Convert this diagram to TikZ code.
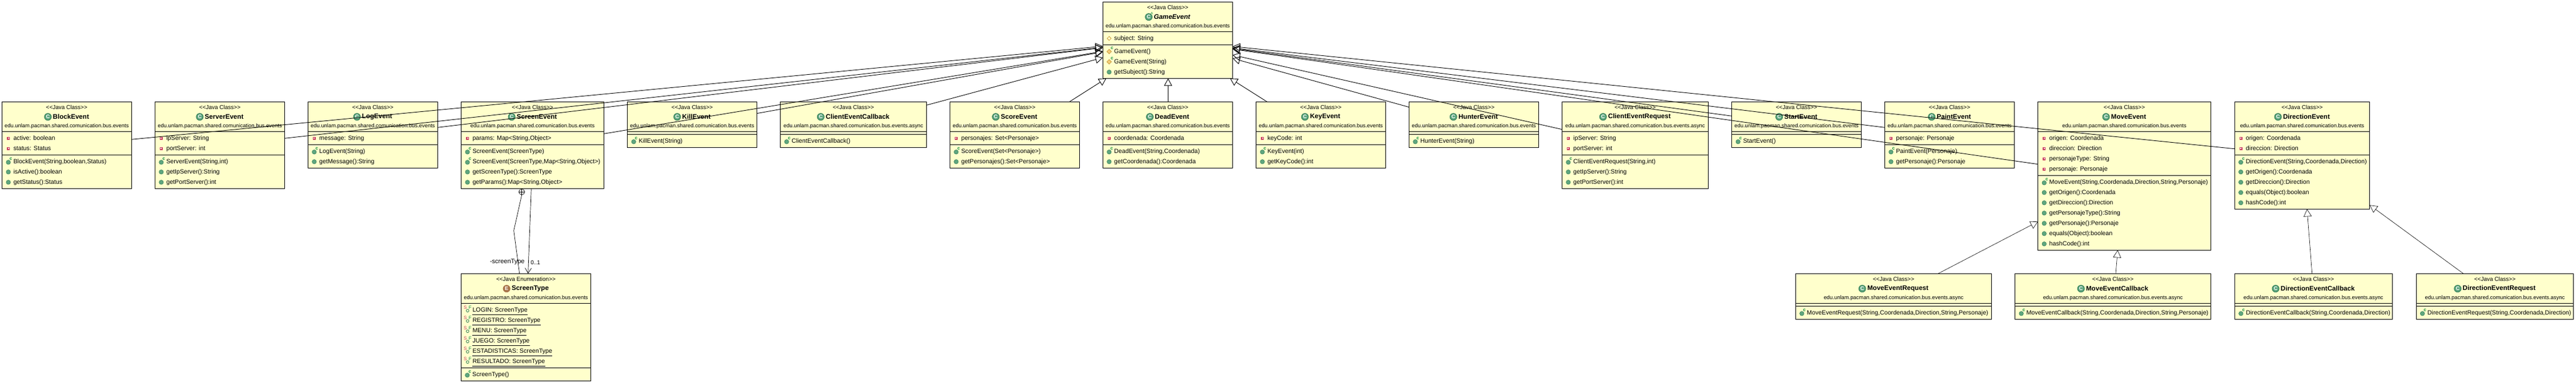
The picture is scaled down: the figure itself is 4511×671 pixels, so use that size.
\documentclass[tikz,border=0pt]{standalone}
\usepackage{fontspec}
\setmainfont{Liberation Sans}
\usetikzlibrary{arrows.meta,positioning}
\definecolor{boxfill}{HTML}{FFFFCC}
\definecolor{greenfill}{HTML}{5FA67F}
\definecolor{greenedge}{HTML}{2F7D53}
\definecolor{greenletter}{HTML}{0B8A3A}
\definecolor{brownfill}{HTML}{A8744A}
\definecolor{privred}{HTML}{C93A5C}
\definecolor{protfill}{HTML}{F3CE7A}
\definecolor{protedge}{HTML}{C99A3C}
\tikzset{
  classbox/.style={draw=black,line width=1pt,fill=boxfill,anchor=north west,inner sep=0pt,outer sep=0pt},
  sepline/.style={black,line width=1pt},
  stereotext/.style={font=\fontsize{10}{12}\selectfont,inner sep=0pt},
  nametext/.style={font=\fontsize{11.6}{14}\selectfont\bfseries,inner sep=0pt},
  pkgtext/.style={font=\fontsize{9.4}{12}\selectfont,inner sep=0pt},
  membertext/.style={font=\fontsize{10.7}{13}\selectfont,anchor=west,inner sep=0pt,text height=8pt,text depth=2.5pt},
  notetext/.style={font=\fontsize{11}{13}\selectfont,inner sep=0pt},
  iconClass/.style={circle,fill=greenfill,draw=greenedge,line width=1pt,minimum size=12pt,inner sep=0pt,text=white,font=\fontsize{9}{9}\selectfont\bfseries},
  iconEnumeration/.style={circle,fill=brownfill,draw=brownfill,line width=1pt,minimum size=12pt,inner sep=0pt,text=white,font=\fontsize{9}{9}\selectfont\bfseries},
  iconletter/.style={inner sep=0pt,text=greenletter,font=\fontsize{8}{8}\selectfont\bfseries},
  extends/.style={-{Triangle[open,length=13pt,width=14pt]},black,line width=0.9pt},
  extendsthin/.style={-{Triangle[open,length=13pt,width=14pt]},black,line width=0.6pt},
  uses/.style={-{Straight Barb[length=9pt,width=11pt]},black,line width=0.7pt},
  nested/.style={black,line width=0.7pt},
  pics/privfield/.style={code={
    \fill[privred] (-2.5pt,-2.5pt) rectangle (2.5pt,2.5pt);
    \fill[white] (-1pt,-1pt) rectangle (1pt,1pt);}},
  pics/publicmethod/.style={code={
    \fill[greenfill,draw=greenedge,line width=0.5pt] (0pt,0pt) circle (3.8pt);}},
  pics/ctormethod/.style={code={
    \fill[greenfill,draw=greenedge,line width=0.5pt] (0pt,-1pt) circle (3.8pt);
    \node[iconletter] (-c) at (4.5pt,5pt) {c};}},
  pics/protfield/.style={code={
    \draw[protedge,line width=0.8pt] (-3.5pt,0pt) -- (0pt,3.5pt) -- (3.5pt,0pt) -- (0pt,-3.5pt) -- cycle;}},
  pics/protctor/.style={code={
    \draw[protedge,fill=protfill,line width=0.8pt] (-4pt,0pt) -- (0pt,4pt) -- (4pt,0pt) -- (0pt,-4pt) -- cycle;
    \node[iconletter] (-c) at (5pt,5.5pt) {c};}},
  pics/staticfinal/.style={code={
    \draw[greenedge,line width=0.8pt] (0pt,-1pt) circle (2.4pt);
    \node[iconletter,text=privred,font=\fontsize{8}{8}\selectfont] (-s) at (-4pt,4.5pt) {S};
    \node[iconletter,font=\fontsize{8}{8}\selectfont\mdseries] (-f) at (4.5pt,5pt) {F};}},
}
\def\firstletter#1#2\relax{#1}
% name, x, y, width, fields, methods, title, package, kind
\newcommand{\umlbox}[9]{
  \pgfmathsetmacro{\ya}{#3+52}
  \pgfmathsetmacro{\yb}{#3+57+18*#5}
  \pgfmathsetmacro{\hh}{62+18*(#5+#6)}
  \node[classbox,minimum width=#4pt,minimum height=\hh pt] (#1) at (#2,#3) {};
  \draw[sepline] (#2,\ya) -- (#2+#4,\ya);
  \draw[sepline] (#2,\yb) -- (#2+#4,\yb);
  \node[stereotext] (#1-stereo) at (#2+0.5*#4,#3+10) {<{}<Java #9>{}>};
  \node[nametext] (#1-name) at (#2+0.5*#4+7.5,#3+26.4) {#7};
  \node[icon#9,left=2.2pt of #1-name] (#1-icon) {\firstletter#9\relax};
  \node[pkgtext] (#1-pkg) at (#2+0.5*#4,#3+42.7) {#8};
}
\newcommand{\member}[5]{
  \pic (#1-icon) at (#2+11,#3) {#4};
  \node[membertext] (#1) at (#2+19.7,#3) {#5};
}
\newcommand{\constant}[4]{
  \pic (#1-icon) at (#2+11.5,#3) {staticfinal};
  \node[membertext] (#1) at (#2+20,#3) {#4};
  \draw[black,line width=0.7pt] ([yshift=-5pt]#1.base west) -- ([yshift=-5pt]#1.base east);
}
\begin{document}
\begin{tikzpicture}[x=1pt,y=-1pt]
\useasboundingbox (0,0) rectangle (4511,671);
\def\bus{edu.unlam.pacman.shared.comunication.bus.events}
\def\async{edu.unlam.pacman.shared.comunication.bus.events.async}

\umlbox{gameEvent}{1931.3}{3.3}{227.2}{1}{3}{\itshape GameEvent}{\bus}{Class}
\node[iconletter,font=\fontsize{6}{6}\selectfont] (gameAbstract) at ([xshift=1pt,yshift=2pt]gameEvent-icon.north east) {A};
\member{gameSubject}{1931.3}{67.3}{protfield}{subject: String}
\member{gameCtorA}{1931.3}{90.3}{protctor}{GameEvent()}
\member{gameCtorB}{1931.3}{108.3}{protctor}{GameEvent(String)}
\member{gameGetSubject}{1931.3}{126.3}{publicmethod}{getSubject():String}

\umlbox{blockEvent}{3.6}{178.3}{226.4}{2}{3}{BlockEvent}{\bus}{Class}
\member{blockActive}{3.6}{242.3}{privfield}{active: boolean}
\member{blockStatus}{3.6}{260.3}{privfield}{status: Status}
\member{blockCtor}{3.6}{283.3}{ctormethod}{BlockEvent(String,boolean,Status)}
\member{blockIsActive}{3.6}{301.3}{publicmethod}{isActive():boolean}
\member{blockGetStatus}{3.6}{319.3}{publicmethod}{getStatus():Status}

\umlbox{serverEvent}{271.4}{178.3}{227.3}{2}{3}{ServerEvent}{\bus}{Class}
\member{serverIp}{271.4}{242.3}{privfield}{ipServer: String}
\member{serverPort}{271.4}{260.3}{privfield}{portServer: int}
\member{serverCtor}{271.4}{283.3}{ctormethod}{ServerEvent(String,int)}
\member{serverGetIp}{271.4}{301.3}{publicmethod}{getIpServer():String}
\member{serverGetPort}{271.4}{319.3}{publicmethod}{getPortServer():int}

\umlbox{logEvent}{539.3}{178.3}{227.2}{1}{2}{LogEvent}{\bus}{Class}
\member{logMessage}{539.3}{242.3}{privfield}{message: String}
\member{logCtor}{539.3}{265.3}{ctormethod}{LogEvent(String)}
\member{logGetMessage}{539.3}{283.3}{publicmethod}{getMessage():String}

\umlbox{screenEvent}{807.6}{178.3}{250}{1}{4}{ScreenEvent}{\bus}{Class}
\member{screenParams}{807.6}{242.3}{privfield}{params: Map<String,Object>}
\member{screenCtorA}{807.6}{265.3}{ctormethod}{ScreenEvent(ScreenType)}
\member{screenCtorB}{807.6}{283.3}{ctormethod}{ScreenEvent(ScreenType,Map<String,Object>)}
\member{screenGetType}{807.6}{301.3}{publicmethod}{getScreenType():ScreenType}
\member{screenGetParams}{807.6}{319.3}{publicmethod}{getParams():Map<String,Object>}

\umlbox{killEvent}{1098.7}{178.3}{226.7}{0}{1}{KillEvent}{\bus}{Class}
\member{killCtor}{1098.7}{247.3}{ctormethod}{KillEvent(String)}

\umlbox{clientCallback}{1366.5}{178.3}{255.8}{0}{1}{ClientEventCallback}{\async}{Class}
\member{clientCallbackCtor}{1366.5}{247.3}{ctormethod}{ClientEventCallback()}

\umlbox{scoreEvent}{1663.4}{178.3}{227.2}{1}{2}{ScoreEvent}{\bus}{Class}
\member{scorePersonajes}{1663.4}{242.3}{privfield}{personajes: Set<Personaje>}
\member{scoreCtor}{1663.4}{265.3}{ctormethod}{ScoreEvent(Set<Personaje>)}
\member{scoreGet}{1663.4}{283.3}{publicmethod}{getPersonajes():Set<Personaje>}

\umlbox{deadEvent}{1931.3}{178.3}{227.2}{1}{2}{DeadEvent}{\bus}{Class}
\member{deadCoord}{1931.3}{242.3}{privfield}{coordenada: Coordenada}
\member{deadCtor}{1931.3}{265.3}{ctormethod}{DeadEvent(String,Coordenada)}
\member{deadGet}{1931.3}{283.3}{publicmethod}{getCoordenada():Coordenada}

\umlbox{keyEvent}{2199.6}{178.3}{226.7}{1}{2}{KeyEvent}{\bus}{Class}
\member{keyCode}{2199.6}{242.3}{privfield}{keyCode: int}
\member{keyCtor}{2199.6}{265.3}{ctormethod}{KeyEvent(int)}
\member{keyGet}{2199.6}{283.3}{publicmethod}{getKeyCode():int}

\umlbox{hunterEvent}{2467.4}{178.3}{227.2}{0}{1}{HunterEvent}{\bus}{Class}
\member{hunterCtor}{2467.4}{247.3}{ctormethod}{HunterEvent(String)}

\umlbox{clientRequest}{2735.3}{178.3}{256.2}{2}{3}{ClientEventRequest}{\async}{Class}
\member{requestIp}{2735.3}{242.3}{privfield}{ipServer: String}
\member{requestPort}{2735.3}{260.3}{privfield}{portServer: int}
\member{requestCtor}{2735.3}{283.3}{ctormethod}{ClientEventRequest(String,int)}
\member{requestGetIp}{2735.3}{301.3}{publicmethod}{getIpServer():String}
\member{requestGetPort}{2735.3}{319.3}{publicmethod}{getPortServer():int}

\umlbox{startEvent}{3032.6}{178.3}{226.8}{0}{1}{StartEvent}{\bus}{Class}
\member{startCtor}{3032.6}{247.3}{ctormethod}{StartEvent()}

\umlbox{paintEvent}{3300.4}{178.3}{227.2}{1}{2}{PaintEvent}{\bus}{Class}
\member{paintPersonaje}{3300.4}{242.3}{privfield}{personaje: Personaje}
\member{paintCtor}{3300.4}{265.3}{ctormethod}{PaintEvent(Personaje)}
\member{paintGet}{3300.4}{283.3}{publicmethod}{getPersonaje():Personaje}

\umlbox{moveEvent}{3568.7}{178.3}{302.6}{4}{7}{MoveEvent}{\bus}{Class}
\member{moveOrigen}{3568.7}{242.3}{privfield}{origen: Coordenada}
\member{moveDireccion}{3568.7}{260.3}{privfield}{direccion: Direction}
\member{moveType}{3568.7}{278.3}{privfield}{personajeType: String}
\member{movePersonaje}{3568.7}{296.3}{privfield}{personaje: Personaje}
\member{moveCtor}{3568.7}{319.3}{ctormethod}{MoveEvent(String,Coordenada,Direction,String,Personaje)}
\member{moveGetOrigen}{3568.7}{337.3}{publicmethod}{getOrigen():Coordenada}
\member{moveGetDireccion}{3568.7}{355.3}{publicmethod}{getDireccion():Direction}
\member{moveGetType}{3568.7}{373.3}{publicmethod}{getPersonajeType():String}
\member{moveGetPersonaje}{3568.7}{391.3}{publicmethod}{getPersonaje():Personaje}
\member{moveEquals}{3568.7}{409.3}{publicmethod}{equals(Object):boolean}
\member{moveHash}{3568.7}{427.3}{publicmethod}{hashCode():int}

\umlbox{directionEvent}{3913}{178.3}{236.8}{2}{5}{DirectionEvent}{\bus}{Class}
\member{dirOrigen}{3913}{242.3}{privfield}{origen: Coordenada}
\member{dirDireccion}{3913}{260.3}{privfield}{direccion: Direction}
\member{dirCtor}{3913}{283.3}{ctormethod}{DirectionEvent(String,Coordenada,Direction)}
\member{dirGetOrigen}{3913}{301.3}{publicmethod}{getOrigen():Coordenada}
\member{dirGetDireccion}{3913}{319.3}{publicmethod}{getDireccion():Direction}
\member{dirEquals}{3913}{337.3}{publicmethod}{equals(Object):boolean}
\member{dirHash}{3913}{355.3}{publicmethod}{hashCode():int}

\umlbox{moveRequest}{3144.3}{479.3}{343.4}{0}{1}{MoveEventRequest}{\async}{Class}
\member{moveRequestCtor}{3144.3}{548.3}{ctormethod}{MoveEventRequest(String,Coordenada,Direction,String,Personaje)}

\umlbox{moveCallback}{3528.6}{479.3}{342.8}{0}{1}{MoveEventCallback}{\async}{Class}
\member{moveCallbackCtor}{3528.6}{548.3}{ctormethod}{MoveEventCallback(String,Coordenada,Direction,String,Personaje)}

\umlbox{dirCallback}{3913.2}{479.3}{275.9}{0}{1}{DirectionEventCallback}{\async}{Class}
\member{dirCallbackCtor}{3913.2}{548.3}{ctormethod}{DirectionEventCallback(String,Coordenada,Direction)}

\umlbox{dirRequest}{4231}{479.3}{275.9}{0}{1}{DirectionEventRequest}{\async}{Class}
\member{dirRequestCtor}{4231}{548.3}{ctormethod}{DirectionEventRequest(String,Coordenada,Direction)}

\umlbox{screenType}{807.3}{479.3}{227.4}{6}{1}{ScreenType}{\bus}{Enumeration}
\constant{typeLogin}{807.3}{543.3}{LOGIN: ScreenType}
\constant{typeRegistro}{807.3}{561.3}{REGISTRO: ScreenType}
\constant{typeMenu}{807.3}{579.3}{MENU: ScreenType}
\constant{typeJuego}{807.3}{597.3}{JUEGO: ScreenType}
\constant{typeStats}{807.3}{615.3}{ESTADISTICAS: ScreenType}
\constant{typeResultado}{807.3}{633.3}{RESULTADO: ScreenType}
\member{typeCtor}{807.3}{656.3}{ctormethod}{ScreenType()}

\draw[extends] ([yshift=-66pt]blockEvent.north east) -- ([yshift=-77.7pt]gameEvent.north west);
\draw[extends] ([yshift=-64pt]serverEvent.north east) -- ([yshift=-79.7pt]gameEvent.north west);
\draw[extends] ([yshift=-45pt]logEvent.north east) -- ([yshift=-80.3pt]gameEvent.north west);
\draw[extends] ([yshift=-56pt]screenEvent.north east) -- ([yshift=-86.7pt]gameEvent.north west);
\draw[extends] ([yshift=-20.4pt]killEvent.north east) -- ([yshift=-87.7pt]gameEvent.north west);
\draw[extends] ([yshift=-6pt]clientCallback.north east) -- ([yshift=-97.7pt]gameEvent.north west);
\draw[extends] ([xshift=209.4pt]scoreEvent.north west) -- ([xshift=6pt]gameEvent.south west);
\draw[extends] ([xshift=114.2pt]deadEvent.north west) -- ([xshift=114.2pt]gameEvent.south west);
\draw[extends] ([xshift=19.2pt]keyEvent.north west) -- ([xshift=-4.5pt]gameEvent.south east);
\draw[extends] ([yshift=-9.4pt]hunterEvent.north west) -- ([yshift=-99pt]gameEvent.north east);
\draw[extends] ([yshift=-48.4pt]clientRequest.north west) -- ([yshift=-93pt]gameEvent.north east);
\draw[extends] ([yshift=-25pt]startEvent.north west) -- ([yshift=-81.7pt]gameEvent.north east);
\draw[extends] ([yshift=-45pt]paintEvent.north west) -- ([yshift=-80.6pt]gameEvent.north east);
\draw[extends] ([yshift=-109.4pt]moveEvent.north west) -- ([yshift=-82.7pt]gameEvent.north east);
\draw[extends] ([yshift=-82.4pt]directionEvent.north west) -- ([yshift=-78.1pt]gameEvent.north east);

\draw[extendsthin] ([xshift=249.7pt]moveRequest.north west) -- ([yshift=-210pt]moveEvent.north west);
\draw[extendsthin] ([xshift=176.4pt]moveCallback.north west) -- ([xshift=139.7pt]moveEvent.south west);
\draw[extendsthin] ([xshift=135.5pt]dirCallback.north west) -- ([xshift=127pt]directionEvent.south west);
\draw[extendsthin] ([xshift=82.7pt]dirRequest.north west) -- ([yshift=7pt]directionEvent.south east);

\node[circle,draw=black,line width=0.7pt,minimum size=10pt,inner sep=0pt] (screenNest) at (913.7,336.2) {};
\draw[nested] (screenNest.north) -- (screenNest.south);
\draw[nested] (screenNest.west) -- (screenNest.east);
\coordinate (screenBend) at (899.7,404);
\draw[nested] (screenNest.south) -- (screenBend) -- ([xshift=102.4pt]screenType.north west);
\draw[uses] ([xshift=122.7pt]screenEvent.south west) -- ([xshift=117.4pt]screenType.north west);
\node[notetext] (screenTypeRole) at (888.3,459.3) {-screenType};
\node[notetext,font=\fontsize{10}{12}\selectfont] (screenTypeMult) at (937.7,460) {0..1};
\end{tikzpicture}
\end{document}
